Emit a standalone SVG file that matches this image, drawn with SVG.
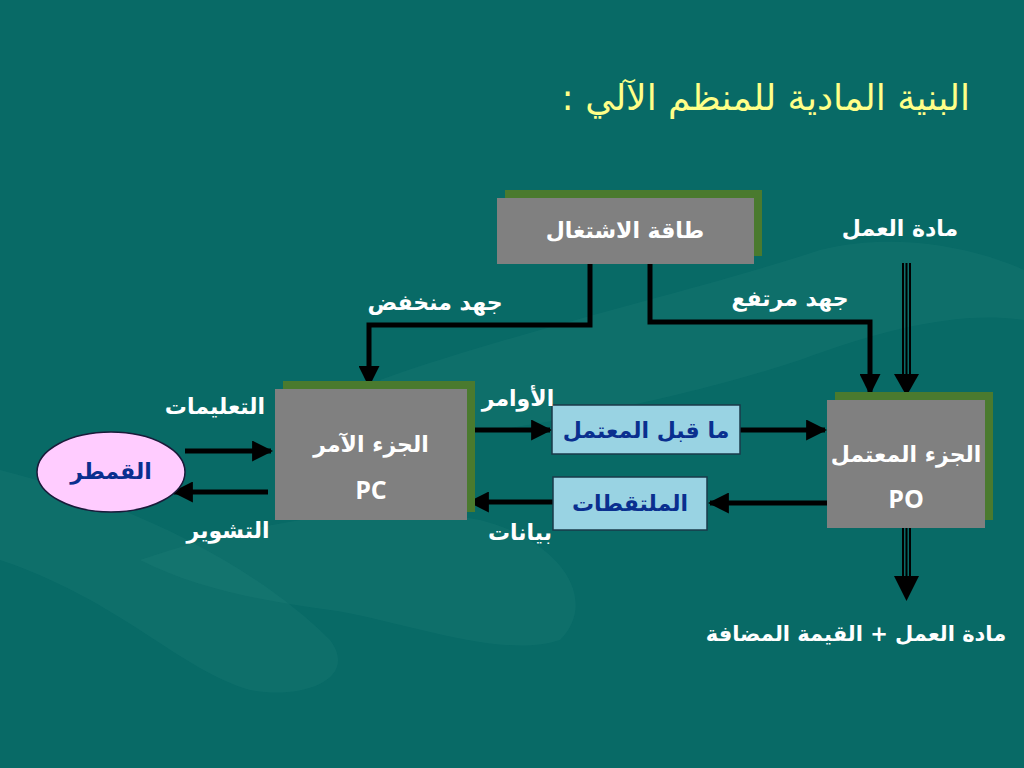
<svg xmlns="http://www.w3.org/2000/svg" width="1024" height="768" viewBox="0 0 1024 768">
<defs>
<style>
.bg{fill:#086a66}
.deco{fill:#4aa8a0;opacity:0.09}
.shadow{fill:#4a7a2e}
.gbox{fill:#808080}
.lbox{fill:#99d3e3;stroke:#1a3a4a;stroke-width:1.5}
.wire{fill:none;stroke:#000;stroke-width:5}
.thin{fill:none;stroke:#000;stroke-width:2}
.wt{font-family:"DejaVu Sans",sans-serif;font-weight:bold;fill:#fff;font-size:22px;text-anchor:middle}
.bt{font-family:"DejaVu Sans",sans-serif;font-weight:bold;fill:#0a2f8f;font-size:22px;text-anchor:middle}
.lat{font-family:"Open Sans","DejaVu Sans",sans-serif;font-weight:bold;fill:#fff;font-size:25px;text-anchor:middle}
.title{font-family:"DejaVu Sans",sans-serif;fill:#ffff88;font-size:36px;text-anchor:end}
</style>
<marker id="ah" viewBox="0 0 10 10" refX="9" refY="5" markerWidth="4.2" markerHeight="4.2" orient="auto" markerUnits="strokeWidth">
<path d="M0,0 L10,5 L0,10 z" fill="#000"/>
</marker>
</defs>
<rect class="bg" x="0" y="0" width="1024" height="768"/>
<g id="decor">
<path class="deco" d="M0,470 C120,500 250,560 330,640 C360,680 300,700 250,690 C180,670 120,600 0,560 Z"/>
<path class="deco" d="M380,380 C520,330 700,290 820,250 C900,230 980,250 1024,270 L1024,320 C960,310 880,330 800,360 C680,400 520,430 420,440 Z"/>
<path class="deco" d="M140,560 C260,520 380,500 480,520 C560,540 600,600 560,640 C500,660 400,620 330,610 C260,600 200,590 140,560 Z"/>
</g>
<g id="title"><text class="title" x="970" y="110">البنية المادية للمنظم الآلي :&#x200F;</text></g>
<g id="connectors">
<polyline class="wire" points="590,264 590,325 369,325 369,385" marker-end="url(#ah)"/>
<polyline class="wire" points="650,264 650,322 870,322 870,393" marker-end="url(#ah)"/>
<line class="wire" x1="185" y1="451" x2="271" y2="451" marker-end="url(#ah)"/>
<line class="wire" x1="268" y1="492" x2="174" y2="492" marker-end="url(#ah)"/>
<line class="wire" x1="467" y1="430" x2="550" y2="430" marker-end="url(#ah)"/>
<line class="wire" x1="740" y1="430" x2="825" y2="430" marker-end="url(#ah)"/>
<line class="wire" x1="827" y1="503" x2="710" y2="503" marker-end="url(#ah)"/>
<line class="wire" x1="553" y1="502" x2="470" y2="502" marker-end="url(#ah)"/>
<g id="in-material">
<line class="thin" x1="903" y1="263" x2="903" y2="378"/>
<line class="thin" x1="906.5" y1="263" x2="906.5" y2="378"/>
<line class="thin" x1="910" y1="263" x2="910" y2="378"/>
<path d="M894,374 L919,374 L906.5,396 z" fill="#000"/>
</g>
<g id="out-material">
<line class="thin" x1="903" y1="528" x2="903" y2="578"/>
<line class="thin" x1="906.5" y1="528" x2="906.5" y2="578"/>
<line class="thin" x1="910" y1="528" x2="910" y2="578"/>
<path d="M894,576 L919,576 L906.5,601 z" fill="#000"/>
</g>
</g>
<g id="power">
<rect class="shadow" x="505" y="190" width="257" height="66"/>
<rect class="gbox" x="497" y="198" width="257" height="66"/>
<text class="wt" x="625" y="238">طاقة الاشتغال</text>
</g>
<g id="pc">
<rect class="shadow" x="283" y="381" width="192" height="131"/>
<rect class="gbox" x="275" y="389" width="192" height="131"/>
<text class="wt" x="371" y="452">الجزء الآمر</text>
<text class="lat" x="371" y="499">PC</text>
</g>
<g id="po">
<rect class="shadow" x="835" y="392" width="158" height="128"/>
<rect class="gbox" x="827" y="400" width="158" height="128"/>
<text class="wt" x="906" y="462">الجزء المعتمل</text>
<text class="lat" x="906" y="508">PO</text>
</g>
<g id="preactuator">
<rect class="lbox" x="552" y="405" width="188" height="49"/>
<text class="bt" x="646" y="438">ما قبل المعتمل</text>
</g>
<g id="sensors">
<rect class="lbox" x="553" y="477" width="154" height="53"/>
<text class="bt" x="630" y="511">الملتقطات</text>
</g>
<g id="desk">
<ellipse cx="111" cy="472" rx="74" ry="40" fill="#ffccff" stroke="#1a1a3a" stroke-width="1.5"/>
<text class="bt" x="111" y="479">القمطر</text>
</g>
<g id="labels">
<text class="wt" x="435" y="310">جهد منخفض</text>
<text class="wt" x="790" y="306">جهد مرتفع</text>
<text class="wt" x="900" y="236">مادة العمل</text>
<text class="wt" x="215" y="414">التعليمات</text>
<text class="wt" x="228" y="538">التشوير</text>
<text class="wt" x="518" y="406">الأوامر</text>
<text class="wt" x="520" y="540">بيانات</text>
<text class="wt" x="856" y="641" style="font-size:21px">مادة العمل + القيمة المضافة</text>
</g>
</svg>
